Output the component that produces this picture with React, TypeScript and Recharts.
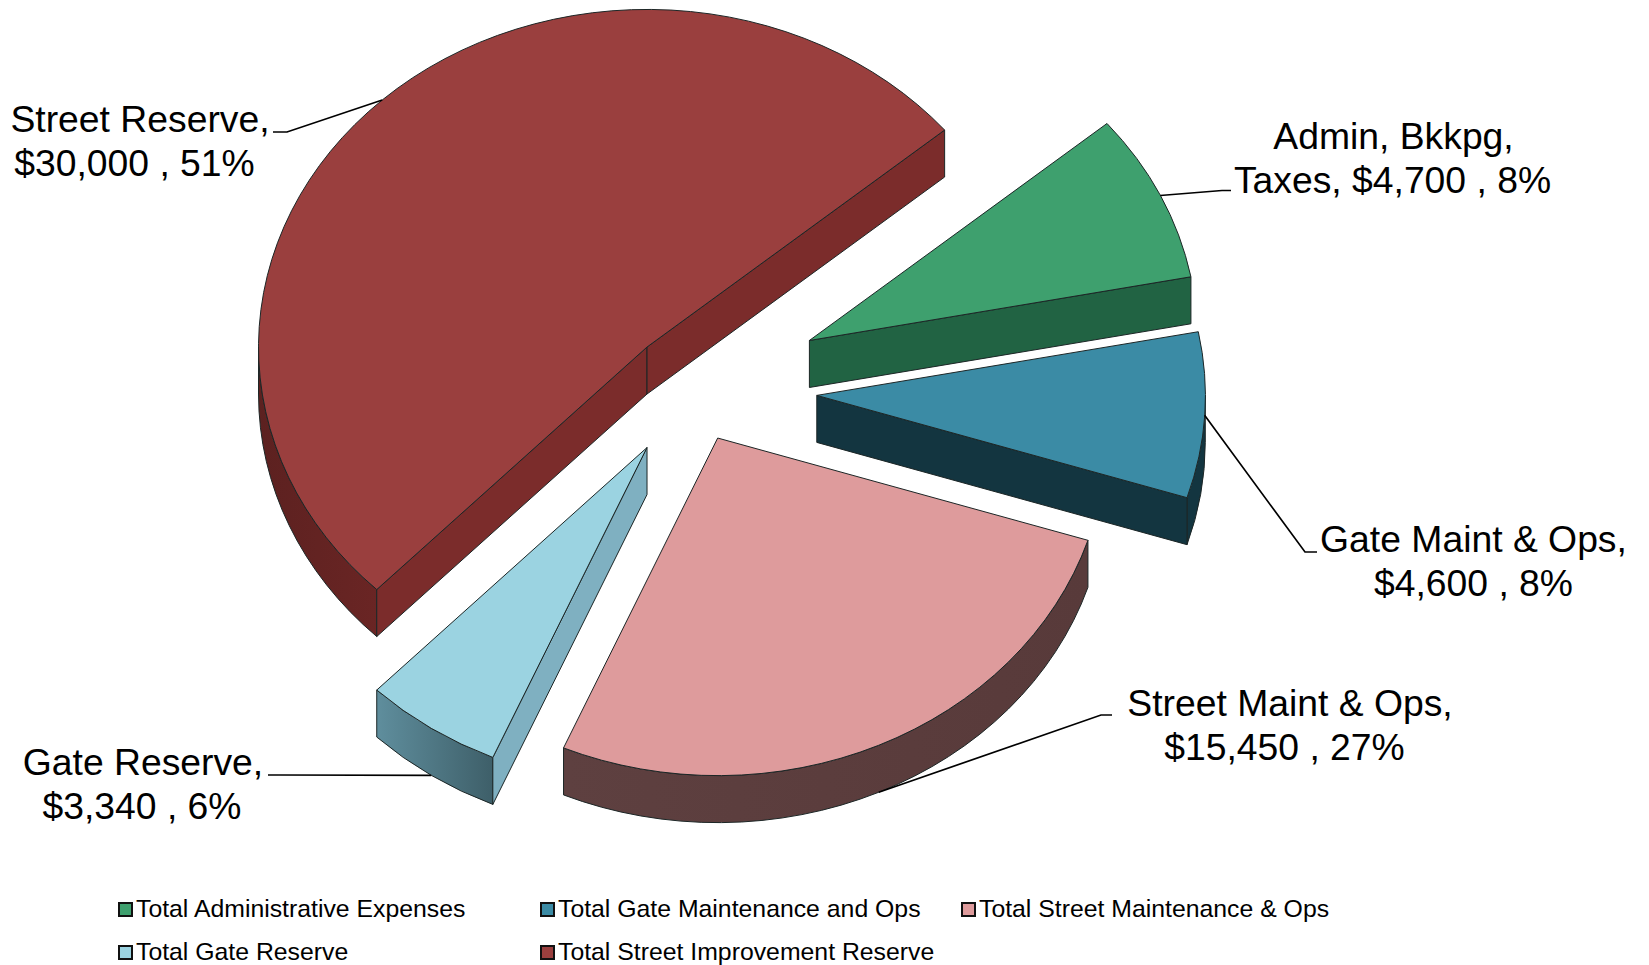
import React from "react";
import { PieChart, Pie, Legend } from "recharts";

// Budget figures
const categories = [
  "Total Administrative Expenses",
  "Total Gate Maintenance and Ops",
  "Total Street Maintenance & Ops",
  "Total Gate Reserve",
  "Total Street Improvement Reserve",
];
const amounts = [4700, 4600, 15450, 3340, 30000];
const labelTexts = [
  ["Admin, Bkkpg,", "Taxes, $4,700 , 8%"],
  ["Gate Maint & Ops,", "$4,600 , 8%"],
  ["Street Maint & Ops,", "$15,450 , 27%"],
  ["Gate Reserve,", "$3,340 , 6%"],
  ["Street Reserve,", "$30,000 , 51%"],
];

// Palette: top surface, cut faces, rim gradient (left to right)
const topColors = ["#3ea06e", "#3b8ba5", "#de9b9c", "#9bd3e1", "#9a3f3e"];
const faceColors = ["#216343", "#133540", "#583a3a", "#7fb0c1", "#7b2c2b"];
const rimFrom = ["#216343", "#133540", "#5e4040", "#5f8e9d", "#5c2120"];
const rimTo = ["#216343", "#133540", "#583a3a", "#3e5f69", "#6a2524"];

// Pie geometry
const CX = 692;
const CY = 389;
const RADIUS = 388.5;
const TILT = 0.869;
const DEPTH = 47;
const FIRST_ANGLE = 40;
const explosion = [130, 125, 62, 81, 66];

// Label placement: text centre, first baseline, second-line nudge, leader start and elbow
const labelX = [1393.5, 1473.5, 1290, 143, 140];
const labelY = [149, 552, 716, 775, 132];
const secondLineNudge = [-1, 0, -5.5, -1, -5.5];
const leaderStart = [[1231, 190.5], [1317, 552], [1112, 715], [268, 775], [273, 132]];
const leaderElbow = [[1222, 190.5], [1305, 552], [1101, 715], [280, 775], [287, 132]];

const LABEL_FONT = "Liberation Sans, Arial, sans-serif";

const tableRows = categories.map((name, i) => ({ name, value: amounts[i], fill: topColors[i] }));

const onRim = (x: number, y: number, clockDeg: number) => {
  const t = (clockDeg * Math.PI) / 180;
  return [x + RADIUS * Math.sin(t), y - RADIUS * TILT * Math.cos(t)];
};

const shift = (i: number, clockDeg: number) => {
  const t = (clockDeg * Math.PI) / 180;
  return [CX + explosion[i] * Math.sin(t), CY - explosion[i] * TILT * Math.cos(t)];
};

const Slice3D = (props: any) => {
  const i = categories.indexOf(props.name);
  const a = 90 - props.startAngle;
  const b = 90 - props.endAngle;
  const [x, y] = shift(i, (a + b) / 2);
  const [ax, ay] = onRim(x, y, a);
  const [bx, by] = onRim(x, y, b);
  const ry = RADIUS * TILT;
  const large = b - a > 180 ? 1 : 0;
  const edge = { stroke: "#1c2626", strokeWidth: 1, strokeLinejoin: "round" as const };

  const parts: React.ReactNode[] = [];
  const gradientId = `rim-${i}`;

  // Outer rim: only the part of the arc that faces downwards
  const w0 = Math.max(a, 90);
  const w1 = Math.min(b, 270);
  if (w1 > w0) {
    const [p0x, p0y] = onRim(x, y, w0);
    const [p1x, p1y] = onRim(x, y, w1);
    parts.push(
      <defs key="g">
        <linearGradient id={gradientId} x1="0" y1="0" x2="1" y2="0">
          <stop offset="0" stopColor={rimFrom[i]} />
          <stop offset="1" stopColor={rimTo[i]} />
        </linearGradient>
      </defs>,
      <path
        key="rim"
        d={`M${p0x},${p0y} A${RADIUS},${ry} 0 0 1 ${p1x},${p1y} L${p1x},${p1y + DEPTH} A${RADIUS},${ry} 0 0 0 ${p0x},${p0y + DEPTH} Z`}
        fill={`url(#${gradientId})`}
        {...edge}
      />
    );
  }

  // Radial cut faces, drawn when they turn towards the viewer
  const face = (key: string, px: number, py: number) => (
    <path
      key={key}
      d={`M${x},${y} L${px},${py} L${px},${py + DEPTH} L${x},${y + DEPTH} Z`}
      fill={faceColors[i]}
      {...edge}
    />
  );
  if (Math.sin((a * Math.PI) / 180) < 0) parts.push(face("start", ax, ay));
  if (Math.sin((b * Math.PI) / 180) > 0) parts.push(face("end", bx, by));

  parts.push(
    <path
      key="top"
      d={`M${x},${y} L${ax},${ay} A${RADIUS},${ry} 0 ${large} 1 ${bx},${by} Z`}
      fill={topColors[i]}
      {...edge}
    />
  );
  return <g>{parts}</g>;
};

const SliceLabel = (props: any) => {
  const i = categories.indexOf(props.name);
  const clock = 90 - props.midAngle;
  const [x, y] = shift(i, clock);
  const [rx, ry] = onRim(x, y, clock);
  const lowerHalf = Math.cos((clock * Math.PI) / 180) < -0.2;
  const end = [rx, lowerHalf ? ry + DEPTH : ry];
  const pts = [leaderStart[i], leaderElbow[i], end].map((p) => p.join(",")).join(" ");
  return (
    <g>
      <polyline points={pts} fill="none" stroke="#000" strokeWidth={1.7} />
      <text
        x={labelX[i]}
        y={labelY[i]}
        textAnchor="middle"
        fontFamily={LABEL_FONT}
        fontSize={37.3}
        fill="#000"
      >
        {labelTexts[i].map((line, n) => (
          <tspan key={n} x={labelX[i] + (n === 0 ? 0 : secondLineNudge[i])} dy={n === 0 ? 0 : 43.8}>
            {line}
          </tspan>
        ))}
      </text>
    </g>
  );
};

// Legend laid out in three columns and two rows
const legendCols = [118, 540, 961];
const legendRows = [901, 944];

const LegendGrid = () => (
  <div style={{ position: "relative", width: 1649, height: 965, fontFamily: LABEL_FONT }}>
    {categories.map((name, i) => (
      <div
        key={name}
        style={{
          position: "absolute",
          left: legendCols[i % 3],
          top: legendRows[Math.floor(i / 3)],
          display: "flex",
          alignItems: "center",
          height: 16,
          whiteSpace: "nowrap",
          fontSize: 24.8,
          color: "#000",
        }}
      >
        <span
          style={{
            width: 11,
            height: 11,
            border: "2px solid #111",
            background: topColors[i],
            marginRight: 3,
            display: "inline-block",
          }}
        />
        {name}
      </div>
    ))}
  </div>
);

export default function App() {
  return (
    <div style={{ position: "absolute", left: 0, top: 0, width: 1649, height: 965, background: "#fff" }}>
      <PieChart width={1649} height={965} margin={{ top: 0, right: 0, bottom: 0, left: 0 }}>
        <Legend
          content={<LegendGrid />}
          wrapperStyle={{ position: "absolute", left: 0, top: 0, width: 1649, height: 965, pointerEvents: "none" }}
        />
        <Pie
          data={tableRows}
          dataKey="value"
          nameKey="name"
          cx={CX}
          cy={CY}
          outerRadius={RADIUS}
          startAngle={FIRST_ANGLE}
          endAngle={FIRST_ANGLE - 360}
          paddingAngle={0}
          shape={Slice3D}
          label={SliceLabel}
          labelLine={false}
          isAnimationActive={false}
        />
      </PieChart>
    </div>
  );
}
